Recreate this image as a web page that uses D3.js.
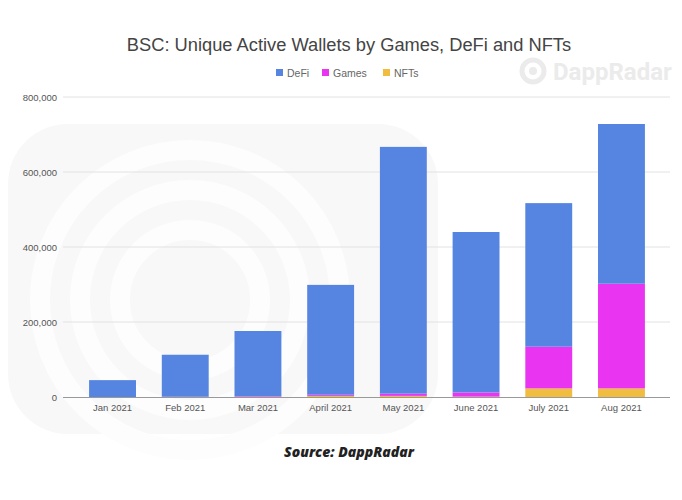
<!DOCTYPE html>
<html><head><meta charset="utf-8">
<script src="https://cdn.jsdelivr.net/npm/d3@7"></script>
<style>body{margin:0;background:#fff}svg{display:block}</style>
</head><body>
<svg id="c" width="682" height="500"></svg>
<script>
const months = ["Jan 2021","Feb 2021","Mar 2021","April 2021","May 2021","June 2021","July 2021","Aug 2021"];
const defi   = [45000,112000,174000,293000,658000,428000,383000,426000];
const games  = [0,500,1500,3000,6000,11000,111000,279000];
const nfts   = [0,200,500,3000,3000,1000,23000,23000];
const seriesNames = ["NFTs","Games","DeFi"];
const legendNames = ["DeFi","Games","NFTs"];
const colors = {DeFi:"#5585e0", Games:"#e934f2", NFTs:"#f0bd40"};
const yTicks = [0,200000,400000,600000,800000];

const svg = d3.select("#c");
const font = "'Liberation Sans', Arial, sans-serif";

// faint background watermark
const wm = svg.append("g");
wm.append("rect").attr("x",8).attr("y",124).attr("width",430).attr("height",310).attr("rx",60).attr("fill","#f8f8f8");
[150,110,70].forEach((r,i)=>{
  wm.append("circle").attr("cx",190).attr("cy",300).attr("r",r).attr("fill","none").attr("stroke","#fdfdfd").attr("stroke-width",20);
});

const table = months.map((m,i)=>({month:m, DeFi:defi[i], Games:games[i], NFTs:nfts[i]}));
const stack = d3.stack().keys(seriesNames)(table);

const x = d3.scaleBand().domain(months).range([76,658]).paddingInner(0.355).paddingOuter(0.18);
const y = d3.scaleLinear().domain([0,800000]).range([397,97]);

// gridlines
svg.append("g").selectAll("line").data(yTicks.slice(1)).join("line")
  .attr("x1",63).attr("x2",670).attr("y1",d=>y(d)).attr("y2",d=>y(d))
  .attr("stroke","#e2e2e2").attr("stroke-width",1);

// y labels
const yAxis = d3.axisLeft(y).tickValues(yTicks).tickFormat(d3.format(",")).tickSize(0).tickPadding(6);
const gy = svg.append("g").attr("transform","translate(63,0)").call(yAxis);
gy.select(".domain").remove();
gy.selectAll("text").attr("font-family",font).attr("font-size",9.5).attr("fill","#555");

// bars
svg.append("g").selectAll("g").data(stack).join("g")
  .attr("fill",d=>colors[d.key])
  .selectAll("rect").data(d=>d).join("rect")
  .attr("x",d=>x(d.data.month)).attr("width",x.bandwidth())
  .attr("y",d=>y(d[1])).attr("height",d=>Math.max(0,y(d[0])-y(d[1])));

// baseline
svg.append("line").attr("x1",63).attr("x2",670).attr("y1",397.5).attr("y2",397.5).attr("stroke","#999").attr("stroke-width",1);

// x labels
const xAxis = d3.axisBottom(x).tickSize(0).tickPadding(7);
const gx = svg.append("g").attr("transform","translate(0,397)").call(xAxis);
gx.select(".domain").remove();
gx.selectAll("text").attr("font-family",font).attr("font-size",9.5).attr("fill","#555");

// title
svg.append("text").attr("x",349).attr("y",51).attr("text-anchor","middle")
  .attr("font-family",font).attr("font-size",18.3).attr("fill","#444")
  .text("BSC: Unique Active Wallets by Games, DeFi and NFTs");

// legend
const lx = [276,322,383];
const lg = svg.append("g").selectAll("g").data(legendNames).join("g")
  .attr("transform",(d,i)=>`translate(${lx[i]},69)`);
lg.append("rect").attr("width",7).attr("height",7).attr("fill",d=>colors[d]);
lg.append("text").attr("x",11).attr("y",7.5).attr("font-family",font).attr("font-size",10.5).attr("fill","#666").text(d=>d);

// DappRadar watermark
const dr = svg.append("g").attr("fill","#ebebeb");
dr.append("circle").attr("cx",533).attr("cy",71).attr("r",11).attr("fill","none").attr("stroke","#ebebeb").attr("stroke-width",5);
dr.append("circle").attr("cx",533).attr("cy",71).attr("r",4);
dr.append("text").attr("x",553).attr("y",80).attr("font-family","Roboto, sans-serif").attr("font-size",24).attr("font-weight",700).text("DappRadar");

// source
svg.append("text").attr("x",349).attr("y",457).attr("text-anchor","middle")
  .attr("font-family","'Open Sans', Lato, sans-serif").attr("font-size",14).attr("font-weight",800).attr("font-style","italic").attr("fill","#222")
  .text("Source: DappRadar");
</script>
</body></html>
